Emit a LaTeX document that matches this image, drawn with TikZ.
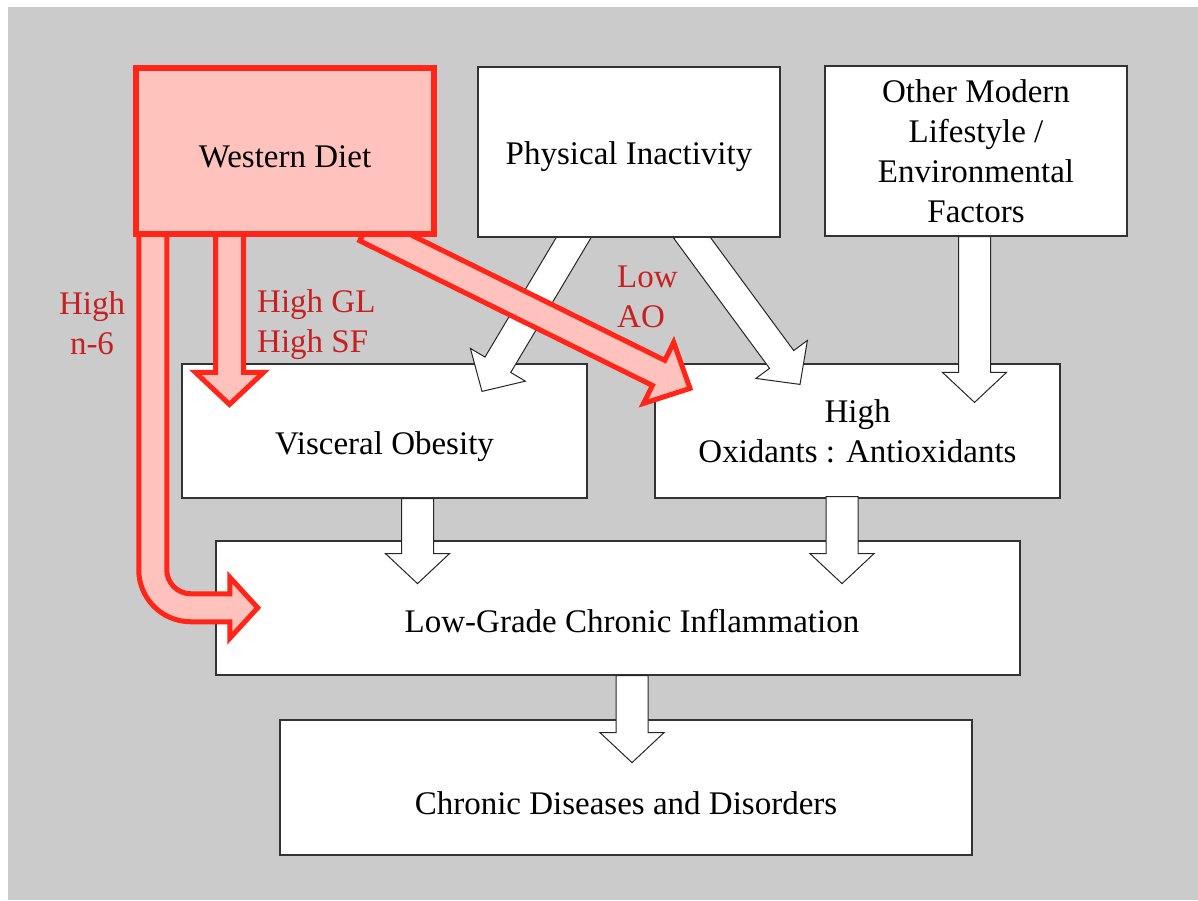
\documentclass[tikz,border=0pt]{standalone}
\usepackage{fontspec}
\setmainfont{Liberation Serif}
\usetikzlibrary{calc}

\definecolor{panelgray}{RGB}{203,203,203}
\definecolor{dietred}{RGB}{255,38,25}
\definecolor{dietpink}{RGB}{255,194,189}
\definecolor{labelred}{RGB}{200,32,32}

\pgfdeclarelayer{back}
\pgfdeclarelayer{front}
\pgfsetlayers{back,main,front}

% block arrow: [style]{tail}{tip}{shaft half width}{head half width}{head length}
\newcommand{\fatarrow}[6][]{%
  \path (#2) coordinate (fa-tail) (#3) coordinate (fa-tip);
  \path ($(fa-tip)!#6!(fa-tail)$) coordinate (fa-base);
  \draw[#1] ($(fa-tail)!#4!90:(fa-tip)$) -- ($(fa-base)!#4!90:(fa-tip)$)
    -- ($(fa-base)!#5!90:(fa-tip)$) -- (fa-tip)
    -- ($(fa-base)!#5!-90:(fa-tip)$) -- ($(fa-base)!#4!-90:(fa-tip)$)
    -- ($(fa-tail)!#4!-90:(fa-tip)$) -- cycle;
}

\begin{document}
\begin{tikzpicture}[
  x=1pt, y=-1pt,
  every node/.style={font=\fontsize{33}{40}\selectfont},
  box/.style={draw=black!80, line width=1.2pt, fill=white, inner sep=0pt, align=center},
  dietbox/.style={draw=dietred, line width=6.5pt, fill=dietpink, inner sep=0pt},
  textdrop/.style={text height=#1, text depth=7pt},
  whitearrow/.style={draw=black!85, fill=white, line width=1pt, line join=miter},
  redarrow/.style={draw=dietred, fill=dietpink, line width=5pt, line join=miter},
  tag/.style={text=labelred, inner sep=0pt}
]
\useasboundingbox (0,0) rectangle (1198,900);

% Causes (top row)
\begin{pgfonlayer}{front}
\node[dietbox, minimum width=298pt, minimum height=166pt, textdrop=40pt] (diet) at (285,151) {Western Diet};
\node[box, minimum width=302pt, minimum height=170pt, textdrop=32pt] (phys) at (629,152) {Physical Inactivity};
\node[box, minimum width=302pt, minimum height=170pt] (other) at (976,151)
  {Other Modern\\Lifestyle /\\Environmental\\Factors};
\end{pgfonlayer}

% Effects
\begin{pgfonlayer}{back}
\fill[panelgray] (8,7) rectangle (1198,900);
\node[box, minimum width=405pt, minimum height=134pt, textdrop=54pt] (obes) at (384.5,431) {Visceral Obesity};
\node[box, minimum width=405pt, minimum height=134pt] (ox) at (857.5,431) {High\\Oxidants : Antioxidants};
\node[box, minimum width=804pt, minimum height=134pt, textdrop=55pt] (inflam) at (618,608)
  {\hspace*{28pt}Low-Grade Chronic Inflammation};
\node[box, minimum width=692pt, minimum height=135pt, textdrop=61pt] (chronic) at (626,787.5) {Chronic Diseases and Disorders};
\end{pgfonlayer}

% Labels on the diet arrows
\node[tag, align=center] (n6) at (92,323) {High\\n-6};
\node[tag, align=left, anchor=west] (glsf) at (257,325) {High GL\\High SF};
\node[tag, align=left, anchor=west] (ao) at (617,297) {Low\\AO};

% White arrows
\fatarrow[whitearrow]{$(phys.south)+(-50,-9)$}{$(obes.north)+(97.5,28)$}{15pt}{32pt}{31pt}
\fatarrow[whitearrow]{$(phys.south)+(57,-8)$}{$(ox.north)+(-57.5,21)$}{15pt}{32pt}{31pt}
\fatarrow[whitearrow]{$(other.south)+(-1.5,0)$}{$(ox.north)+(117,39)$}{16pt}{32pt}{30pt}
\fatarrow[whitearrow]{$(obes.south)+(33,0)$}{$(obes.south)+(33,85)$}{16pt}{32pt}{30pt}
\fatarrow[whitearrow]{$(ox.south)+(-15.5,-2)$}{$(ox.south)+(-15.5,85)$}{16pt}{32pt}{30pt}
\fatarrow[whitearrow]{$(inflam.south)+(14,0)$}{$(inflam.south)+(14,87)$}{16pt}{32pt}{30pt}

% Red arrows (diet)
\begin{scope}[shift={(diet.south west)}]
\draw[redarrow] (6,-9) -- (6,332.5) .. controls (6,361.2) and (29.3,384.5) .. (58,384.5)
  -- (97,384.5) -- (97,401) -- (125,370.5) -- (97,340) -- (97,356.5) -- (58,356.5)
  .. controls (44.8,356.5) and (34,345.7) .. (34,332.5) -- (34,-9) -- cycle;
\end{scope}
\fatarrow[redarrow]{$(diet.south)+(-55.5,-9)$}{$(obes.north)+(-155,41)$}{14pt}{34pt}{32pt}
\fatarrow[redarrow]{$(diet.south)+(81,-9)$}{$(ox.north)+(-167.5,25)$}{14pt}{34pt}{35pt}

\end{tikzpicture}
\end{document}
